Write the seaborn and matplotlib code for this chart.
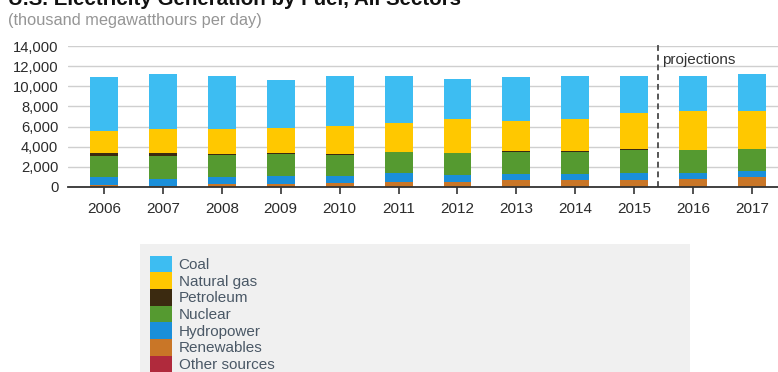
import numpy as np
import pandas as pd
import matplotlib
matplotlib.use("Agg")
import matplotlib.pyplot as plt
from matplotlib.patches import Patch, Rectangle
import seaborn as sns

years = ["2006", "2007", "2008", "2009", "2010", "2011",
         "2012", "2013", "2014", "2015", "2016", "2017"]

# thousand megawatthours per day, stacked bottom to top
other_sources = [30, 30, 30, 30, 30, 30, 30, 30, 30, 30, 30, 30]
renewables = [120, 100, 220, 270, 370, 420, 510, 620, 660, 670, 770, 960]
hydropower = [810, 665, 750, 760, 690, 920, 700, 690, 640, 720, 630, 600]
nuclear = [2120, 2285, 2200, 2180, 2120, 2070, 2120, 2150, 2180, 2260, 2200, 2170]
petroleum = [260, 260, 110, 100, 100, 80, 60, 60, 60, 60, 50, 50]
natural_gas = [2250, 2390, 2420, 2550, 2780, 2800, 3300, 3040, 3180, 3570, 3870, 3740]
coal = [5300, 5460, 5290, 4770, 4930, 4700, 4050, 4340, 4290, 3740, 3500, 3670]

sources = ["Coal", "Natural gas", "Petroleum", "Nuclear",
           "Hydropower", "Renewables", "Other sources"]
colors = ["#3dbdf2", "#ffc800", "#3b2a10", "#559a30",
          "#1a8fda", "#c97627", "#b02a3c"]

sns.set_theme(style="white")
plt.rcParams["font.family"] = ["Liberation Sans", "DejaVu Sans"]

df = pd.DataFrame({
    "year": years,
    "Other sources": other_sources,
    "Renewables": renewables,
    "Hydropower": hydropower,
    "Nuclear": nuclear,
    "Petroleum": petroleum,
    "Natural gas": natural_gas,
    "Coal": coal,
})

# cumulative tops, drawn from the tallest layer down so each overlays the one above
stack_order = ["Other sources", "Renewables", "Hydropower", "Nuclear",
               "Petroleum", "Natural gas", "Coal"]
cum = df[stack_order].cumsum(axis=1)

fig = plt.figure(figsize=(7.78, 3.72), dpi=100)
ax = fig.add_axes([68 / 778, 1 - 187 / 372, 1 - 68 / 778, (187 - 46) / 372])

color_of = dict(zip(sources, colors))
for src in reversed(stack_order):
    sns.barplot(x=df["year"], y=cum[src], color=color_of[src], saturation=1,
                width=0.475, ax=ax, zorder=3, linewidth=0)

ax.set_xlim(-0.611, 11.44)
ax.set_ylim(0, 14000)
ax.set_yticks(np.arange(0, 14001, 2000))
ax.set_yticklabels([f"{v:,}" for v in range(0, 14001, 2000)])
ax.set_xlabel("")
ax.set_ylabel("")
ax.grid(axis="y", color="#cfcfcf", linewidth=1.0, zorder=0)
ax.grid(axis="x", visible=False)
for side in ["top", "right", "left"]:
    ax.spines[side].set_visible(False)
ax.spines["bottom"].set_color("#333333")
ax.spines["bottom"].set_linewidth(1.3)
ax.spines["bottom"].set_zorder(5)
ax.tick_params(axis="x", bottom=True, length=5, width=1.2, color="#333333",
               pad=6, labelsize=11, labelcolor="#2b2b2b")
ax.tick_params(axis="y", left=False, length=0, pad=7, labelsize=10.6,
               labelcolor="#2b2b2b")

# forecast divider
ax.axvline(9.406, ymin=0, ymax=1.02, color="#555555", linestyle=(0, (3, 2)),
           linewidth=1.4, clip_on=False, zorder=4)
ax.text(9.48, 12600, "projections", fontsize=11, color="#333333",
        va="center", ha="left")

# title and unit line
fig.text(8 / 778, 1 - 5 / 372, "U.S. Electricity Generation by Fuel, All Sectors",
         fontsize=14.8, fontweight="bold", color="#111111", va="baseline", ha="left")
fig.text(8 / 778, 1 - 21 / 372, "(thousand megawatthours per day)",
         fontsize=11.8, color="#959595", va="center", ha="left")

# legend panel
fig.patches.append(Rectangle((140 / 778, 0), (690 - 140) / 778, (372 - 244) / 372,
                             transform=fig.transFigure, facecolor="#f0f0f0",
                             edgecolor="none", zorder=0))
handles = [Patch(facecolor=c, edgecolor="none", label=s) for s, c in zip(sources, colors)]
leg = fig.legend(handles=handles, loc="upper left",
                 bbox_to_anchor=(139 / 778, 1 - 245 / 372), frameon=False,
                 fontsize=11, handlelength=1.45, handleheight=1.3,
                 handletextpad=0.45, labelspacing=0.0, borderpad=0.2)
for t in leg.get_texts():
    t.set_color("#4a5866")

fig.savefig("out.png", dpi=100)
